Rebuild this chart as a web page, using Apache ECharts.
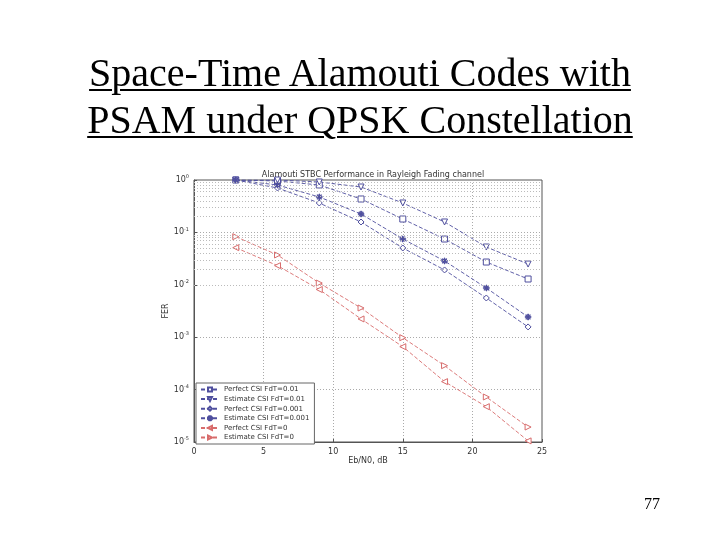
<!DOCTYPE html>
<html>
<head>
<meta charset="utf-8">
<script src="https://cdn.jsdelivr.net/npm/echarts@6/dist/echarts.min.js"></script>
<style>
  html, body { margin:0; padding:0; background:#fff; }
  #wrap { position:relative; width:720px; height:540px; overflow:hidden; }
  #chart { position:absolute; left:0; top:0; width:720px; height:540px; }
  #slideTitle { position:absolute; left:0; top:49px; width:720px; text-align:center;
    font-family:"Liberation Serif","Times New Roman",serif; font-size:40px; line-height:47px;
    color:#000; text-decoration:underline; text-decoration-thickness:2px; text-underline-offset:3px; }
  #pageNum { position:absolute; left:644px; top:495px; font-family:"Liberation Serif",serif; font-size:16px; color:#000; }
</style>
</head>
<body>
<div id="wrap">
  <div id="chart"></div>
  <div id="slideTitle">Space-Time Alamouti Codes with<br>PSAM under QPSK Constellation</div>
  <div id="pageNum">77</div>
</div>
<script>
// ---- data ----
const snr = [3, 6, 9, 12, 15, 18, 21, 24];
const perfect001   = [1.0, 0.957, 0.803, 0.434, 0.180, 0.0748, 0.0272, 0.0129];   // Perfect CSI FdT=0.01
const estimate001  = [1.0, 1.0, 0.916, 0.735, 0.364, 0.158, 0.0526, 0.0249];      // Estimate CSI FdT=0.01
const perfect0001  = [1.0, 0.704, 0.364, 0.158, 0.0504, 0.0192, 0.0056, 0.00157]; // Perfect CSI FdT=0.001
const estimate0001 = [1.0, 0.803, 0.474, 0.2245, 0.0748, 0.0285, 0.00869, 0.00243]; // Estimate CSI FdT=0.001
const perfect0     = [0.0511, 0.0232, 0.00813, 0.00223, 0.000659, 0.000142, 4.72e-5, 1.05e-5]; // Perfect CSI FdT=0
const estimate0    = [0.0828, 0.0371, 0.0108, 0.00361, 0.000978, 0.000286, 7.22e-5, 1.93e-5]; // Estimate CSI FdT=0
const seriesNames = ['Perfect CSI FdT=0.01', 'Estimate CSI FdT=0.01', 'Perfect CSI FdT=0.001',
                     'Estimate CSI FdT=0.001', 'Perfect CSI FdT=0', 'Estimate CSI FdT=0'];
const xTicks = [0, 5, 10, 15, 20, 25];
const yDecades = [-5, -4, -3, -2, -1, 0];
const minorMult = [2, 3, 4, 5, 6, 7, 8, 9];

const blue = '#4f4f9e';
const red = '#d86c6c';
const starPath = 'path://M-1,-10L1,-10L1,10L-1,10Z M-10,-1L10,-1L10,1L-10,1Z M-7.8,-6.4L-6.4,-7.8L7.8,6.4L6.4,7.8Z M6.4,-7.8L7.8,-6.4L-6.4,7.8L-7.8,6.4Z';

function pairs(vals) { return snr.map((x, i) => [x, vals[i]]); }

const minorLines = [];
yDecades.slice(0, -1).forEach(d => minorMult.forEach(m => minorLines.push({ yAxis: m * Math.pow(10, d) })));

function mkSeries(name, vals, color, symbol, rot, filled) {
  return {
    name: name, type: 'line', data: pairs(vals),
    symbol: symbol, symbolSize: 6, symbolRotate: rot,
    lineStyle: { color: color, width: 0.9, type: [4, 2] },
    itemStyle: { color: filled ? color : '#fff', borderColor: color, borderWidth: 1 },
    emphasis: { disabled: true }, z: 3
  };
}

const chart = echarts.init(document.getElementById('chart'), null, { renderer: 'canvas' });
const option = {
  backgroundColor: '#fff',
  animation: false,
  title: {
    text: 'Alamouti STBC Performance in Rayleigh Fading channel',
    left: 368, top: 166, textAlign: 'center',
    textStyle: { fontFamily: 'DejaVu Sans', fontSize: 8, fontWeight: 'normal', color: '#333' }
  },
  grid: { left: 194, right: 178, top: 180, bottom: 98, show: true, borderColor: '#555', borderWidth: 1 },
  legend: {
    orient: 'vertical', left: 196, top: 383,
    data: seriesNames,
    itemWidth: 18, itemHeight: 5, itemGap: 2.6,
    padding: [3, 5, 3, 4],
    backgroundColor: '#fff', borderColor: '#666', borderWidth: 1,
    textStyle: { fontFamily: 'DejaVu Sans', fontSize: 7, color: '#333' }
  },
  xAxis: {
    type: 'value', min: xTicks[0], max: xTicks[xTicks.length - 1], interval: 5,
    name: 'Eb/N0, dB', nameLocation: 'middle', nameGap: 15,
    nameTextStyle: { fontFamily: 'DejaVu Sans', fontSize: 8, color: '#333' },
    axisLine: { lineStyle: { color: '#555' } },
    axisTick: { inside: true, length: 3, lineStyle: { color: '#555' } },
    axisLabel: { fontFamily: 'DejaVu Sans', fontSize: 8, color: '#333', margin: 6 },
    splitLine: { show: true, lineStyle: { color: '#aaa', type: [1, 2], width: 1 } }
  },
  yAxis: {
    type: 'log', logBase: 10, min: 1e-5, max: 1,
    name: 'FER', nameLocation: 'middle', nameGap: 24,
    nameTextStyle: { fontFamily: 'DejaVu Sans', fontSize: 8, color: '#333' },
    axisLine: { lineStyle: { color: '#555' } },
    axisTick: { inside: true, length: 3, lineStyle: { color: '#555' } },
    axisLabel: {
      fontFamily: 'DejaVu Sans', color: '#333', margin: 5,
      formatter: v => '{b|10}{s|' + Math.round(Math.log10(v)) + '}',
      rich: { b: { fontSize: 8, color: '#333' }, s: { fontSize: 5, color: '#333', padding: [0, 0, 6, 0] } }
    },
    splitLine: { show: true, lineStyle: { color: '#aaa', type: [1, 2], width: 1 } }
  },
  series: [
    mkSeries(seriesNames[0], perfect001, blue, 'rect', 0, false),
    mkSeries(seriesNames[1], estimate001, blue, 'triangle', 180, false),
    mkSeries(seriesNames[2], perfect0001, blue, 'diamond', 0, false),
    mkSeries(seriesNames[3], estimate0001, blue, starPath, 0, true),
    mkSeries(seriesNames[4], perfect0, red, 'triangle', 90, false),
    mkSeries(seriesNames[5], estimate0, red, 'triangle', -90, false),
    {
      name: 'minorGrid', type: 'line', data: [], silent: true, z: 1,
      markLine: {
        silent: true, symbol: ['none', 'none'], label: { show: false },
        lineStyle: { color: '#bbb', type: [1, 2], width: 1 },
        animation: false, data: minorLines
      }
    }
  ]
};
chart.setOption(option);
</script>
</body>
</html>
